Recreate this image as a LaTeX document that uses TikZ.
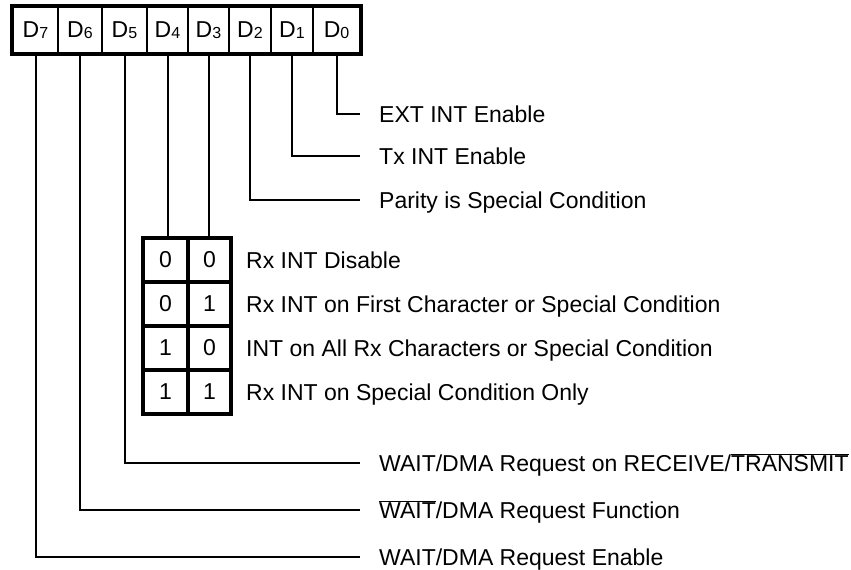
\documentclass[tikz,border=0pt]{standalone}
\usepackage{fontspec}
\setmainfont{Liberation Sans}
\newcommand{\sbs}[1]{{\fontsize{16}{16}\selectfont\raisebox{-1.2pt}{#1}}}
\newcommand{\ovl}[1]{$\overline{\hbox{#1}}$}
\begin{document}
\begin{tikzpicture}[x=1pt,y=-1pt,
  every node/.style={font=\fontsize{23}{27}\selectfont},
  regcell/.style={draw, line width=1.3pt, minimum height=46pt, inner sep=0pt},
  tabcell/.style={draw, line width=3.5pt, minimum height=44pt, inner sep=0pt},
  lbl/.style={anchor=base west, inner sep=0pt},
  conn/.style={line width=2pt}]
\useasboundingbox (0,0) rectangle (851,570);
% register
\node[regcell, minimum width=45pt] (d7) at (35.5,30) {D\sbs{7}};
\node[regcell, minimum width=44pt] (d6) at (80,30) {D\sbs{6}};
\node[regcell, minimum width=45pt] (d5) at (124.5,30) {D\sbs{5}};
\node[regcell, minimum width=41pt] (d4) at (167.5,30) {D\sbs{4}};
\node[regcell, minimum width=41pt] (d3) at (208.5,30) {D\sbs{3}};
\node[regcell, minimum width=42pt] (d2) at (250,30) {D\sbs{2}};
\node[regcell, minimum width=42pt] (d1) at (292,30) {D\sbs{1}};
\node[regcell, minimum width=47pt] (d0) at (336.5,30) {D\sbs{0}};
\draw[line width=4pt] (d7.north west) rectangle (d0.south east);
% table
\foreach \r/\y/\a/\b in {1/260/0/0, 2/304/0/1, 3/348/1/0, 4/392/1/1}{
  \node[tabcell, minimum width=45pt] (r\r a) at (165.5,\y) {\a};
  \node[tabcell, minimum width=43pt] (r\r b) at (209.5,\y) {\b};
}
\node[lbl] (rl1) at (246,268.5) {Rx INT Disable};
\node[lbl] (rl2) at (246,312.5) {Rx INT on First Character or Special Condition};
\node[lbl] (rl3) at (246,356.5) {INT on All Rx Characters or Special Condition};
\node[lbl] (rl4) at (246,400.5) {Rx INT on Special Condition Only};
% labels
\node[lbl] (l0) at (379,122.5) {EXT INT Enable};
\node[lbl] (l1) at (379,164.5) {Tx INT Enable};
\node[lbl] (l2) at (379,208.5) {Parity is Special Condition};
\node[lbl] (l5) at (379,471.5) {WAIT/DMA Request on RECEIVE/\ovl{TRANSMIT}};
\node[lbl] (l6) at (379,518.5) {\ovl{WAIT}/DMA Request Function};
\node[lbl] (l7) at (379,565.5) {WAIT/DMA Request Enable};
\coordinate (e0) at (360,114);
\coordinate (e1) at (360,156);
\coordinate (e2) at (360,200);
\coordinate (e5) at (360,463);
\coordinate (e6) at (360,510);
\coordinate (e7) at (360,557);
% connectors
\draw[conn] (d0.south) |- (e0);
\draw[conn] (d1.south) |- (e1);
\draw[conn] (d2.south) |- (e2);
\draw[conn] (d5.south) |- (e5);
\draw[conn] (d6.south) |- (e6);
\draw[conn] (d7.south) |- (e7);
\draw[conn] (d4.south) -- (d4.south |- r1a.north);
\draw[conn] (d3.south) -- (d3.south |- r1b.north);
\end{tikzpicture}
\end{document}
